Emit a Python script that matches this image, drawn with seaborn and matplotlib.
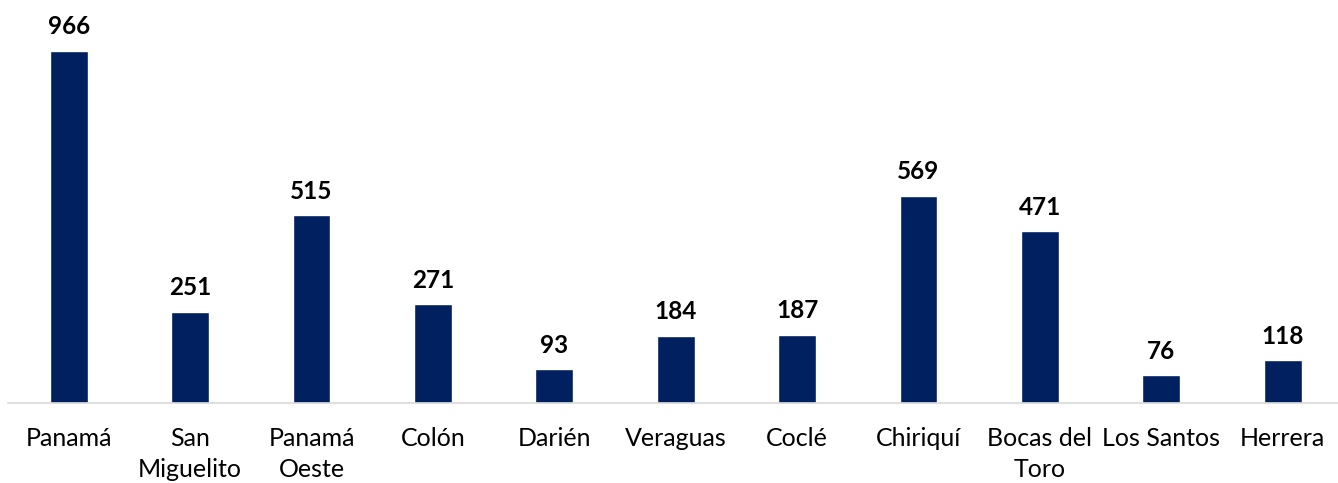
import matplotlib
matplotlib.use("Agg")
import matplotlib.pyplot as plt
import seaborn as sns
import pandas as pd

# data
provincias = ["Panamá", "San\nMiguelito", "Panamá\nOeste", "Colón", "Darién",
              "Veraguas", "Coclé", "Chiriquí", "Bocas del\nToro", "Los Santos",
              "Herrera"]
valores = [966, 251, 515, 271, 93, 184, 187, 569, 471, 76, 118]

BAR_COLOR = "#002060"

sns.set_style("white")
plt.rcParams["font.family"] = ["Lato", "DejaVu Sans"]

df = pd.DataFrame({"provincia": provincias, "valor": valores})

fig = plt.figure(figsize=(13.38, 4.83), dpi=100)
ax = fig.add_axes([8 / 1338, 80 / 483, 1330 / 1338, 403 / 483])

sns.barplot(data=df, x="provincia", y="valor", color=BAR_COLOR,
            width=0.31, saturation=1, ax=ax)

ax.set_xlim(-0.5, -0.5 + 1330 / 121.4)
ax.set_ylim(0, 966 * 403 / 352)

for i, v in enumerate(valores):
    ax.annotate(f"{v}", (i, v), xytext=(0, 9), textcoords="offset points",
                ha="center", va="bottom", fontsize=17.5, fontweight="bold",
                color="black")

ax.set_xlabel("")
ax.set_ylabel("")
ax.set_yticks([])
ax.tick_params(axis="x", length=0, pad=17, labelsize=18, colors="black")
for lbl in ax.get_xticklabels():
    lbl.set_linespacing(1.45)

for s in ["top", "right", "left"]:
    ax.spines[s].set_visible(False)
ax.spines["bottom"].set_color("#d9d9d9")
ax.spines["bottom"].set_linewidth(1.2)

fig.savefig("out.png", dpi=100)
